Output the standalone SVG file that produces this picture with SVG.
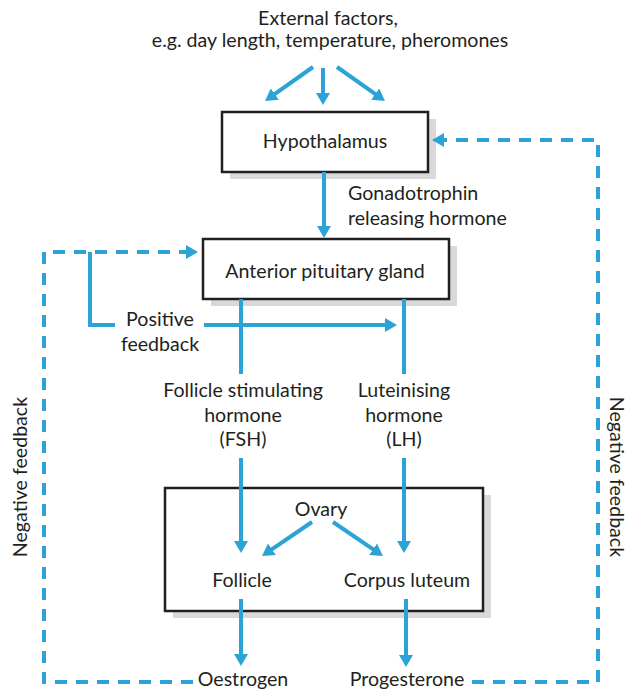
<svg xmlns="http://www.w3.org/2000/svg" width="630" height="689" viewBox="0 0 630 689">
<defs>
<style>
text{font-family:Lato,"Open Sans","Liberation Sans",sans-serif;font-size:19.6px;fill:#231f20;text-anchor:middle}
.l{text-anchor:start}
.box{fill:#fff;stroke:#231f20;stroke-width:2.5}
.sh{fill:#d9d9da}
.a{fill:none;stroke:#2ba3d6;stroke-width:4}
.d{stroke-dasharray:12 9}
</style>
<marker id="ah" viewBox="0 0 12 14" refX="2" refY="7" markerWidth="12" markerHeight="14" markerUnits="userSpaceOnUse" orient="auto">
<path d="M0,0 L12,7 L0,14 Z" fill="#2ba3d6"/>
</marker>
</defs>
<rect width="630" height="689" fill="#fff"/>
<g id="external">
<text x="328" y="25">External factors,</text>
<text x="330" y="47">e.g. day length, temperature, pheromones</text>
</g>
<g id="hypothalamus">
<rect class="sh" x="230" y="119" width="206" height="60"/>
<rect class="box" x="222" y="112" width="206" height="60"/>
<text x="325" y="148">Hypothalamus</text>
</g>
<g id="pituitary">
<rect class="sh" x="211" y="246" width="246" height="60"/>
<rect class="box" x="203" y="239" width="246" height="60"/>
<text x="325" y="278">Anterior pituitary gland</text>
</g>
<g id="ovary">
<rect class="sh" x="173" y="495" width="318" height="123"/>
<rect class="box" x="165" y="488" width="318" height="123"/>
<text x="321" y="516">Ovary</text>
<text x="242" y="587">Follicle</text>
<text x="407" y="587">Corpus luteum</text>
</g>
<g id="labels">
<text class="l" x="348" y="200">Gonadotrophin</text>
<text class="l" x="348" y="225">releasing hormone</text>
<text x="160" y="326">Positive</text>
<text x="160" y="351">feedback</text>
<text x="243" y="397">Follicle stimulating</text>
<text x="243" y="422">hormone</text>
<text x="243" y="446">(FSH)</text>
<text x="404" y="397">Luteinising</text>
<text x="404" y="422">hormone</text>
<text x="404" y="446">(LH)</text>
<text x="243" y="686">Oestrogen</text>
<text x="407" y="686">Progesterone</text>
<text transform="translate(27,477) rotate(-90)">Negative feedback</text>
<text transform="translate(610,477) rotate(90)">Negative feedback</text>
</g>
<g id="connectors">
<line class="a" x1="323" y1="68" x2="323" y2="95" marker-end="url(#ah)"/>
<line class="a" x1="313" y1="67" x2="273.2" y2="95.2" marker-end="url(#ah)"/>
<line class="a" x1="337" y1="67" x2="376.8" y2="95.2" marker-end="url(#ah)"/>
<line class="a" x1="324" y1="172" x2="324" y2="228" marker-end="url(#ah)"/>
<polyline class="a" points="115,325 90,325 90,252"/>
<line class="a" x1="204" y1="325" x2="387" y2="325" marker-end="url(#ah)"/>
<line class="a" x1="241" y1="299" x2="241" y2="374"/>
<line class="a" x1="241" y1="458" x2="241" y2="543" marker-end="url(#ah)"/>
<line class="a" x1="404" y1="299" x2="404" y2="374"/>
<line class="a" x1="404" y1="458" x2="404" y2="543" marker-end="url(#ah)"/>
<line class="a" x1="312" y1="522" x2="270.3" y2="550.4" marker-end="url(#ah)"/>
<line class="a" x1="333" y1="522" x2="374.7" y2="550.4" marker-end="url(#ah)"/>
<line class="a" x1="241" y1="599" x2="241" y2="656" marker-end="url(#ah)"/>
<line class="a" x1="406" y1="599" x2="406" y2="657" marker-end="url(#ah)"/>
<path class="a d" d="M193,682 L44,682 L44,252 L188,252" marker-end="url(#ah)"/>
<path class="a d" d="M472,682 L598,682 L598,140 L442,140" marker-end="url(#ah)"/>
</g>
</svg>
